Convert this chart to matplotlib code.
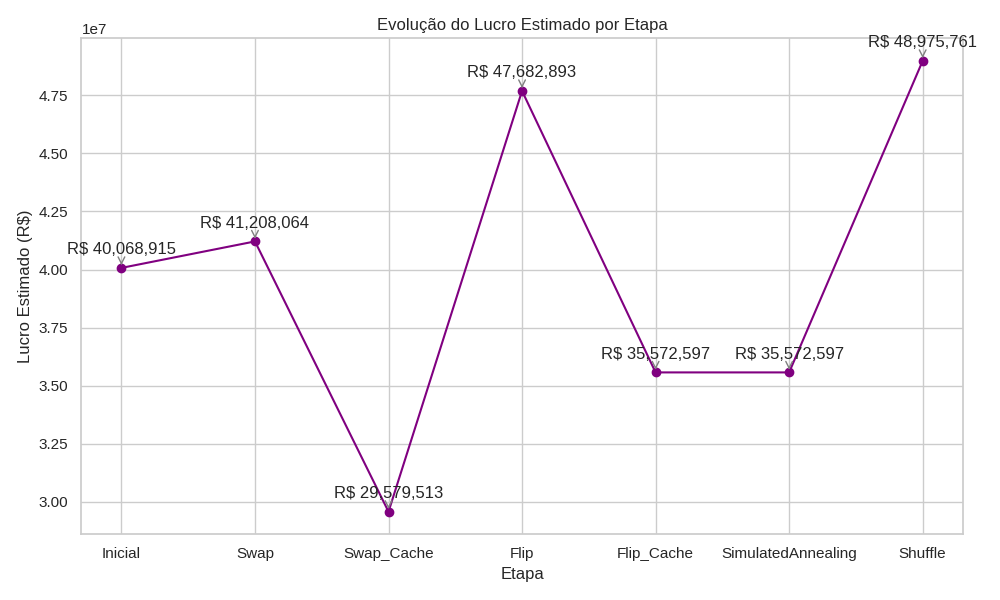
import matplotlib
matplotlib.use("Agg")
import matplotlib.pyplot as plt
import seaborn as sns

etapas = ["Inicial", "Swap", "Swap_Cache", "Flip", "Flip_Cache", "SimulatedAnnealing", "Shuffle"]
lucros = [40068915, 41208064, 29579513, 47682893, 35572597, 35572597, 48975761]

sns.set_theme(style="whitegrid")
plt.rcParams['font.family'] = ['Liberation Sans', 'DejaVu Sans']

fig, ax = plt.subplots(figsize=(10, 6), dpi=100)
ax.plot(etapas, lucros, marker="o", color="purple")

for i, v in enumerate(lucros):
    ax.annotate(f"R$ {v:,}", xy=(i, v), xytext=(0, 10), textcoords="offset points",
                ha="center", arrowprops=dict(arrowstyle="->", color="gray"))

ax.set_title("Evolução do Lucro Estimado por Etapa")
ax.set_xlabel("Etapa")
ax.set_ylabel("Lucro Estimado (R$)")

plt.tight_layout()
plt.savefig("out.png", dpi=100)
plt.close()
